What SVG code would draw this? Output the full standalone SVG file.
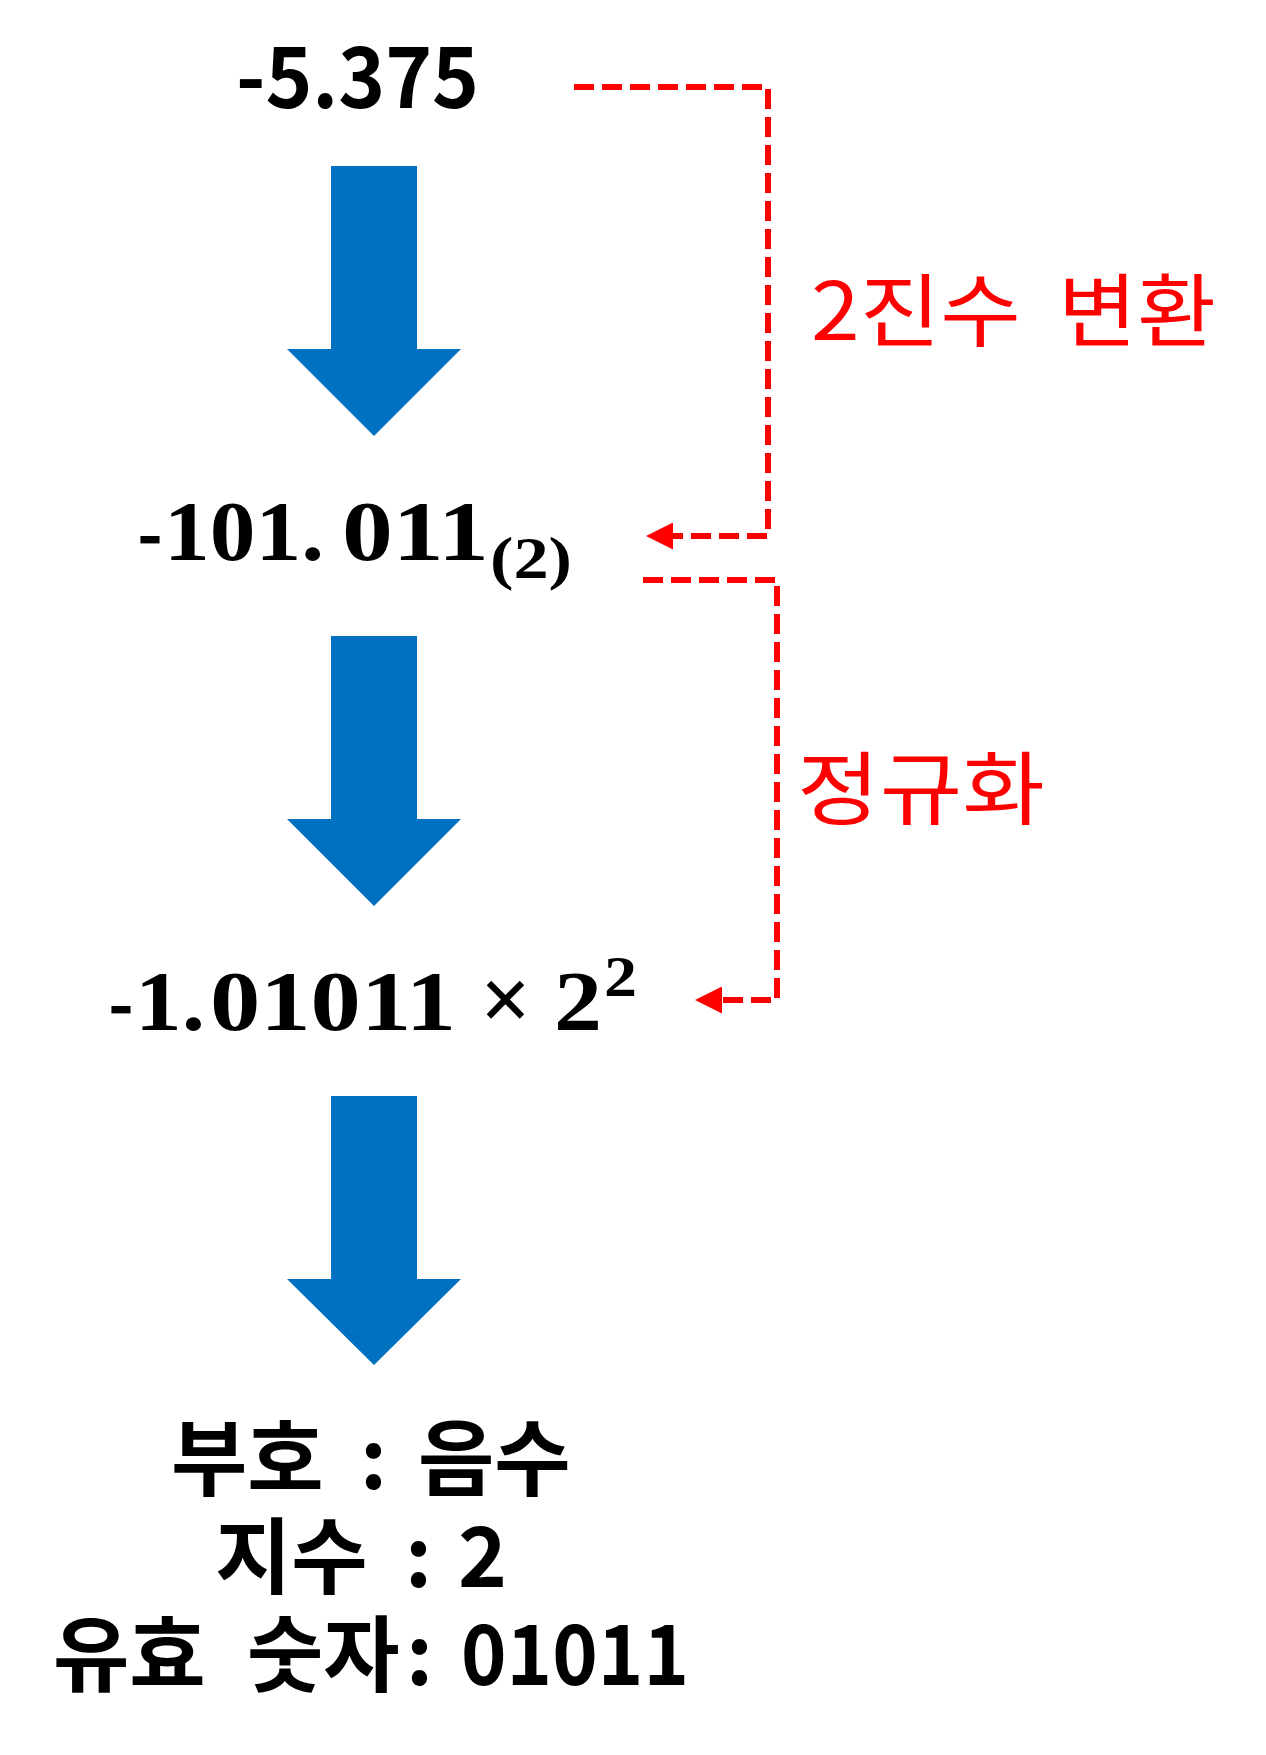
<svg xmlns="http://www.w3.org/2000/svg" width="1266" height="1755" viewBox="0 0 1266 1755">
<style>
.blk{font-family:"Noto Sans CJK KR","Noto Sans",sans-serif;font-weight:bold;fill:#000}
.math{font-family:"Liberation Serif",serif;font-weight:bold;fill:#000}
.lbl{font-family:"Noto Sans CJK KR","Noto Sans",sans-serif;fill:#FF0000;font-size:80px}
.dash{fill:none;stroke:#FF0000;stroke-width:6;stroke-dasharray:20 8}
.big{fill:#0070C0}
</style>
<defs>
<marker id="ah" viewBox="0 0 10 10" refX="0" refY="5" markerWidth="4.5" markerHeight="4.5" markerUnits="strokeWidth" orient="auto">
<path d="M0,0 L10,5 L0,10 z" fill="#FF0000"/>
</marker>
</defs>
<rect width="1266" height="1755" fill="#fff"/>
<g id="n1"><text class="blk" x="236" y="108" font-size="84" textLength="243" lengthAdjust="spacingAndGlyphs">-5.375</text></g>
<g id="a1"><polygon class="big" points="331,166 417,166 417,349 461,349 374,436 287,349 331,349"/></g>
<g id="n2">
<text class="blk" x="137" y="560" font-size="70" font-weight="normal">-</text>
<text class="math" x="164" y="560" font-size="84" textLength="160" lengthAdjust="spacingAndGlyphs">101.</text>
<text class="math" x="342" y="560" font-size="84" textLength="147" lengthAdjust="spacingAndGlyphs">011</text>
<text class="math" x="490" y="578" font-size="60" textLength="82" lengthAdjust="spacingAndGlyphs">(2)</text>
</g>
<g id="a2"><polygon class="big" points="331,636 417,636 417,819 461,819 374,906 287,819 331,819"/></g>
<g id="n3">
<text class="blk" x="108" y="1030" font-size="70" font-weight="normal">-</text>
<text class="math" x="135" y="1030" font-size="84" textLength="70" lengthAdjust="spacingAndGlyphs">1.</text>
<text class="math" x="210" y="1030" font-size="84" textLength="246" lengthAdjust="spacingAndGlyphs">01011</text>
<text class="math" x="480" y="1030" font-size="90" font-weight="normal">×</text>
<text class="math" x="554" y="1030" font-size="84" textLength="48" lengthAdjust="spacingAndGlyphs">2</text>
<text class="math" x="604" y="996" font-size="56" textLength="33" lengthAdjust="spacingAndGlyphs">2</text>
</g>
<g id="a3"><polygon class="big" points="331,1096 417,1096 417,1279 461,1279 374,1365 287,1279 331,1279"/></g>
<g id="n4">
<text class="blk" x="171" y="1489" font-size="83">부호</text>
<text class="blk" x="360" y="1489" font-size="83">:</text>
<text class="blk" x="418" y="1489" font-size="83">음수</text>
<text class="blk" x="215" y="1587" font-size="83">지수</text>
<text class="blk" x="405" y="1587" font-size="83">:</text>
<text class="blk" x="458" y="1587" font-size="83">2</text>
<text class="blk" x="53" y="1685" font-size="83">유효</text>
<text class="blk" x="247" y="1685" font-size="83">숫자</text>
<text class="blk" x="406" y="1685" font-size="83">:</text>
<text class="blk" x="461" y="1685" font-size="83" textLength="228" lengthAdjust="spacingAndGlyphs">01011</text>
</g>
<g id="l1">
<text class="lbl" x="811" y="340" textLength="210" lengthAdjust="spacingAndGlyphs">2진수</text>
<text class="lbl" x="1058" y="340" textLength="158" lengthAdjust="spacingAndGlyphs">변환</text>
</g>
<g id="l2"><text class="lbl" x="797" y="818" textLength="248" lengthAdjust="spacingAndGlyphs">정규화</text></g>
<g id="connectors">
<path class="dash" d="M574,87 H768 V536 H673" marker-end="url(#ah)"/>
<path class="dash" d="M643,580 H777 V1000 H722" marker-end="url(#ah)"/>
</g>
</svg>
